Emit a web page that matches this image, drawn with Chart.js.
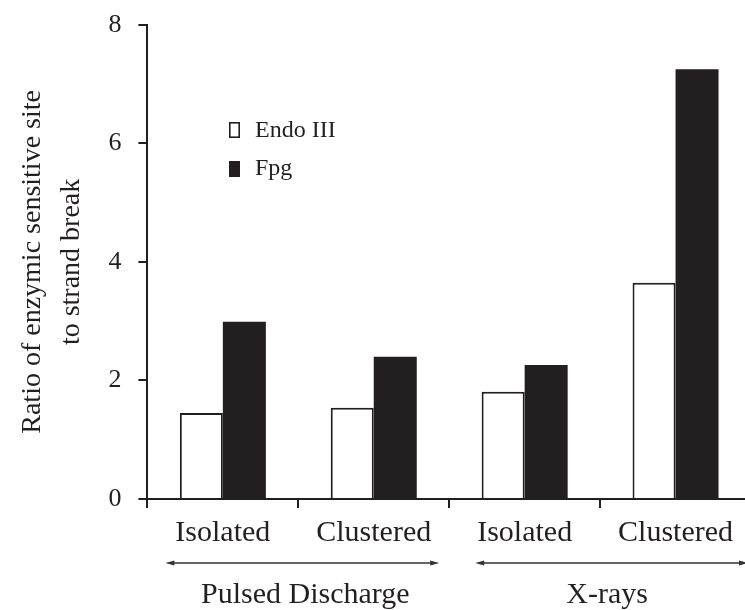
<!DOCTYPE html>
<html><head><meta charset="utf-8">
<script src="https://cdn.jsdelivr.net/npm/chart.js@4"></script>
<style>html,body{margin:0;padding:0;background:#fff;overflow:hidden}#wrap{width:745px;height:610px;overflow:hidden;position:relative;background:#fff}canvas{display:block}</style>
</head><body><div id="wrap"><canvas id="c" width="751" height="632"></canvas></div>
<script>
// ---- data ----
const categories = ['Isolated', 'Clustered', 'Isolated', 'Clustered'];
const groups = ['Pulsed Discharge', 'X-rays'];
const seriesNames = ['Endo III', 'Fpg'];
const endoIII = [1.45, 1.54, 1.81, 3.65];
const fpg = [2.99, 2.40, 2.26, 7.25];
const yTicks = [0, 2, 4, 6, 8];
const yTitle = ['Ratio of enzymic sensitive site', 'to strand break'];

// ---- style ----
const INK = '#231f20';
const FONT = "'Liberation Serif', 'Times New Roman', serif";

const overlay = {
  id: 'overlay',
  afterDraw(chart) {
    const ctx = chart.ctx;
    ctx.save();
    // legend inside plot
    const ds = chart.data.datasets;
    const legendPos = [{x: 229, y: 122, h: 16, ty: 131}, {x: 229, y: 161, h: 16, ty: 169}];
    ds.forEach((d, i) => {
      const p = legendPos[i];
      ctx.fillStyle = d.backgroundColor;
      ctx.fillRect(p.x, p.y, 11, p.h);
      ctx.strokeStyle = INK; ctx.lineWidth = 1.6;
      ctx.strokeRect(p.x + 0.8, p.y + 0.8, 9.4, p.h - 1.6);
      ctx.fillStyle = INK;
      ctx.font = '24px ' + FONT;
      ctx.textBaseline = 'middle'; ctx.textAlign = 'left';
      ctx.fillText(d.label, 255, p.ty);
    });
    // group arrows
    const x2 = chart.scales.x2;
    const insetL = [18, 26], insetR = [10, 3];
    const ay = 563;
    groups.forEach((g, i) => {
      const c = x2.getPixelForValue(i);
      const half = (x2.width / groups.length) / 2;
      const a = c - half + insetL[i], b = c + half - insetR[i];
      ctx.strokeStyle = '#333'; ctx.fillStyle = '#333'; ctx.lineWidth = 1.4;
      ctx.beginPath(); ctx.moveTo(a + 6, ay); ctx.lineTo(b - 6, ay); ctx.stroke();
      ctx.beginPath(); ctx.moveTo(a, ay); ctx.lineTo(a + 9, ay - 2.5); ctx.lineTo(a + 9, ay + 2.5); ctx.closePath(); ctx.fill();
      ctx.beginPath(); ctx.moveTo(b, ay); ctx.lineTo(b - 9, ay - 2.5); ctx.lineTo(b - 9, ay + 2.5); ctx.closePath(); ctx.fill();
    });
    ctx.restore();
  }
};

new Chart(document.getElementById('c'), {
  type: 'bar',
  data: {
    labels: categories,
    datasets: [
      {label: seriesNames[0], data: endoIII, backgroundColor: '#ffffff', borderColor: INK, borderWidth: 2, borderSkipped: 'bottom'},
      {label: seriesNames[1], data: fpg, backgroundColor: INK, borderColor: INK, borderWidth: 0}
    ]
  },
  options: {
    responsive: false,
    animation: false,
    devicePixelRatio: 1,
    layout: {padding: {top: 24, left: 0, right: 0, bottom: 0}},
    datasets: {bar: {categoryPercentage: 0.57, barPercentage: 1.0}},
    plugins: {legend: {display: false}, tooltip: {enabled: false}},
    scales: {
      x: {
        position: 'bottom', weight: 0, offset: true,
        grid: {display: true, offset: true, drawOnChartArea: false, drawTicks: true, tickLength: 9, color: INK, lineWidth: 2},
        border: {display: true, color: INK, width: 2},
        ticks: {color: INK, font: {family: FONT, size: 30, lineHeight: 1.2}, padding: 7, maxRotation: 0, autoSkip: false}
      },
      x2: {
        type: 'category', labels: groups, position: 'bottom', weight: 1, offset: true,
        grid: {display: false, drawTicks: false},
        border: {display: false},
        ticks: {color: INK, font: {family: FONT, size: 30, lineHeight: 1.0}, padding: 22, labelOffset: 7, maxRotation: 0, autoSkip: false}
      },
      y: {
        min: 0, max: 8,
        afterBuildTicks: (s) => { s.ticks = yTicks.map(v => ({value: v})); },
        grid: {display: true, drawOnChartArea: false, drawTicks: true, tickLength: 9, color: INK, lineWidth: 2},
        border: {display: true, color: INK, width: 2},
        ticks: {color: INK, font: {family: FONT, size: 26, lineHeight: 0.6}, padding: 17},
        title: {display: true, text: yTitle, color: INK, font: {family: FONT, size: 28, lineHeight: 1.4}, padding: {top: 13, bottom: 0}}
      }
    }
  },
  plugins: [overlay]
});
</script></body></html>
